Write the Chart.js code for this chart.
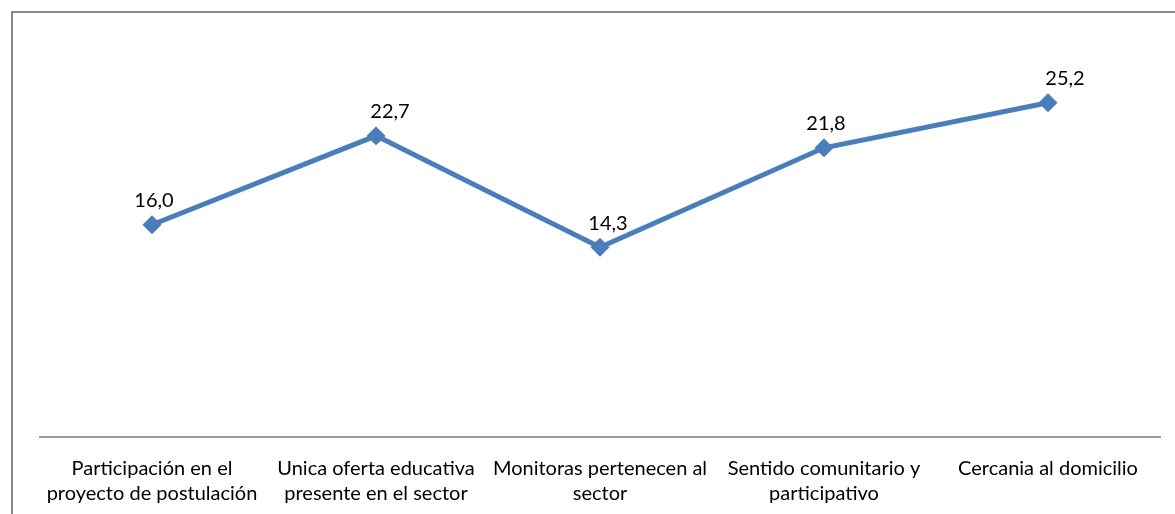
<!DOCTYPE html>
<html>
<head>
<meta charset="utf-8">
<script src="https://cdn.jsdelivr.net/npm/chart.js@4"></script>
<style>
html,body{margin:0;padding:0;background:#fff;}
#wrap{position:absolute;left:0;top:0;width:1175px;height:514px;}
</style>
</head>
<body>
<div id="wrap"><canvas id="c" width="1175" height="514"></canvas></div>
<script>
const categories = [
  ["Participación en el", "proyecto de postulación"],
  ["Unica oferta educativa", "presente en el sector"],
  ["Monitoras pertenecen al", "sector"],
  ["Sentido comunitario y", "participativo"],
  ["Cercania al domicilio"]
];
const values = [16.0, 22.7, 14.3, 21.8, 25.2];
const valueLabels = ["16,0", "22,7", "14,3", "21,8", "25,2"];

const FONT = "Lato, 'Open Sans', sans-serif";
const FONT_SIZE = 20;

const frame = {
  id: 'frame',
  beforeDraw(chart) {
    const ctx = chart.ctx;
    ctx.save();
    ctx.fillStyle = '#fff';
    ctx.fillRect(0, 0, chart.width, chart.height);
    ctx.strokeStyle = '#898989';
    ctx.lineWidth = 2;
    ctx.beginPath();
    ctx.moveTo(12, chart.height + 5);
    ctx.lineTo(12, 12);
    ctx.lineTo(chart.width + 5, 12);
    ctx.stroke();
    ctx.restore();
  }
};

const dataLabels = {
  id: 'dataLabels',
  afterDatasetsDraw(chart, args, opts) {
    const ctx = chart.ctx;
    const meta = chart.getDatasetMeta(0);
    const dx = opts.dx || [];
    ctx.save();
    ctx.font = FONT_SIZE + "px " + FONT;
    ctx.fillStyle = '#000';
    ctx.textAlign = 'center';
    ctx.textBaseline = 'middle';
    meta.data.forEach((pt, i) => {
      ctx.fillText(valueLabels[i], pt.x + (dx[i] || 0), pt.y - 24);
    });
    ctx.restore();
  }
};

new Chart(document.getElementById('c'), {
  type: 'line',
  data: {
    labels: categories,
    datasets: [{
      data: values,
      borderColor: '#4a7ebb',
      backgroundColor: '#4a7ebb',
      borderWidth: 5,
      pointStyle: 'rectRot',
      pointRadius: 9,
      pointHoverRadius: 9,
      pointBackgroundColor: '#4a7ebb',
      pointBorderColor: '#4a7ebb',
      pointBorderWidth: 1,
      tension: 0
    }]
  },
  options: {
    responsive: false,
    animation: false,
    events: [],
    layout: { padding: { left: 40, right: 15, top: 39, bottom: 0 } },
    plugins: {
      legend: { display: false },
      tooltip: { enabled: false },
      dataLabels: { dx: [2, 14, 8, 2, 17] }
    },
    scales: {
      x: {
        offset: true,
        grid: { display: false },
        border: { display: true, color: '#999', width: 2 },
        ticks: {
          color: '#000',
          maxRotation: 0,
          autoSkip: false,
          padding: 11,
          font: { family: FONT, size: FONT_SIZE, lineHeight: 1.25 }
        },
        afterFit(scale) { scale.height = 77; }
      },
      y: {
        display: false,
        min: 0,
        max: 30
      }
    }
  },
  plugins: [frame, dataLabels]
});
</script>
</body>
</html>
